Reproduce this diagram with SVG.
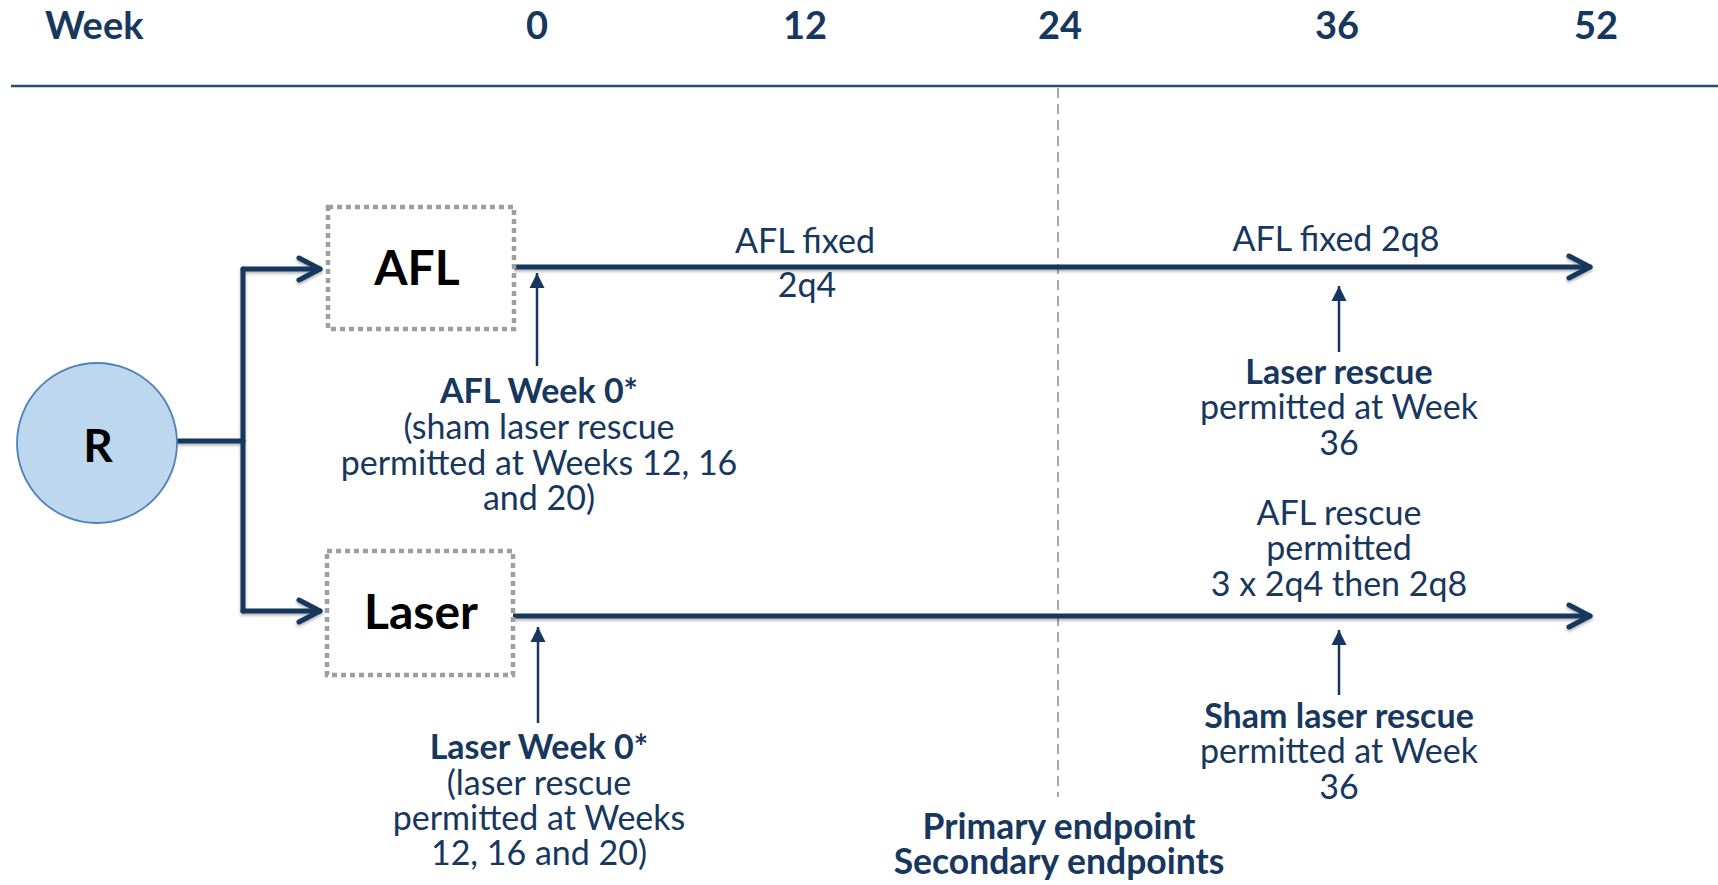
<svg xmlns="http://www.w3.org/2000/svg" width="1718" height="885" viewBox="0 0 1718 885">
<defs>
<style>
.t{font-family:Lato,"Open Sans","Liberation Sans",sans-serif;fill:#17375E;text-anchor:middle}
.r{font-size:34px;font-weight:400}
.b{font-size:34px;font-weight:700}
.e{font-size:35.5px;font-weight:700}
.h{font-size:38px;font-weight:700}
.k{font-family:Lato,"Open Sans","Liberation Sans",sans-serif;fill:#000;font-weight:700;text-anchor:middle}
.main{fill:none;stroke:#17375E;stroke-width:5;stroke-linecap:round;stroke-linejoin:round}
.thin{fill:none;stroke:#17375E;stroke-width:2.5}
.dot{fill:#fff;stroke:#9E9E9E;stroke-width:4.5;stroke-dasharray:5 4}
</style>
<filter id="sh" x="-5%" y="-50%" width="110%" height="300%">
<feDropShadow dx="0" dy="2" stdDeviation="1.5" flood-color="#000" flood-opacity="0.3"/>
</filter>
<marker id="chev" markerUnits="userSpaceOnUse" viewBox="-26 -14 30 28" refX="0" refY="0" markerWidth="30" markerHeight="28" orient="auto">
<path d="M-21,-11 L0,0 L-21,11" fill="none" stroke="#17375E" stroke-width="5" stroke-linecap="round" stroke-linejoin="round"/>
</marker>
<marker id="tri" markerUnits="userSpaceOnUse" viewBox="-16 -8 17 16" refX="0" refY="0" markerWidth="17" markerHeight="16" orient="auto">
<path d="M-15,-7.5 L0,0 L-15,7.5 Z" fill="#17375E"/>
</marker>
</defs>
<rect width="1718" height="885" fill="#fff"/>

<g id="timeline">
<text class="t h" x="45" y="39" style="text-anchor:start">Week</text>
<text class="t h" x="537" y="39">0</text>
<text class="t h" x="805" y="39">12</text>
<text class="t h" x="1060" y="39">24</text>
<text class="t h" x="1337" y="39">36</text>
<text class="t h" x="1596" y="39">52</text>
<line x1="11" y1="86" x2="1718" y2="86" stroke="#2A4C6E" stroke-width="2.5"/>
<line x1="1058" y1="88" x2="1058" y2="797" stroke="#8C8C8C" stroke-width="1.5" stroke-dasharray="10 6"/>
</g>

<g id="connectors">
<g filter="url(#sh)">
<path class="main" d="M178,441 H243"/>
<path class="main" d="M243,269 V611"/>
<path class="main" d="M243,269 H320" marker-end="url(#chev)"/>
<path class="main" d="M243,611 H320" marker-end="url(#chev)"/>
<path class="main" d="M515,267 H1590" marker-end="url(#chev)"/>
<path class="main" d="M513,616 H1590" marker-end="url(#chev)"/>
</g>
<line class="thin" x1="537" y1="366" x2="537" y2="273" marker-end="url(#tri)"/>
<line class="thin" x1="538" y1="723" x2="538" y2="627" marker-end="url(#tri)"/>
<line class="thin" x1="1339" y1="352" x2="1339" y2="286" marker-end="url(#tri)"/>
<line class="thin" x1="1339" y1="695" x2="1339" y2="630" marker-end="url(#tri)"/>
</g>

<g id="node-R">
<circle cx="97" cy="443" r="80" fill="#BDD7EE" stroke="#4F81BD" stroke-width="1.8"/>
<text class="k" x="98" y="462" font-size="46">R</text>
</g>

<g id="node-AFL">
<rect class="dot" x="328" y="207" width="186" height="122"/>
<text class="k" x="417" y="285" font-size="48">AFL</text>
</g>

<g id="node-Laser">
<rect class="dot" x="327" y="551" width="186" height="124"/>
<text class="k" x="421" y="629" font-size="48">Laser</text>
</g>

<g id="label-afl-fixed-2q4">
<text class="t r" x="805" y="253">AFL fixed</text>
<text class="t r" x="807" y="297">2q4</text>
</g>

<g id="label-afl-fixed-2q8">
<text class="t r" x="1336" y="251">AFL fixed 2q8</text>
</g>

<g id="label-afl-week0">
<text class="t b" x="539" y="403">AFL Week 0*</text>
<text class="t r" x="539" y="439">(sham laser rescue</text>
<text class="t r" x="539" y="475">permitted at Weeks 12, 16</text>
<text class="t r" x="539" y="510">and 20)</text>
</g>

<g id="label-laser-rescue">
<text class="t b" x="1339" y="384">Laser rescue</text>
<text class="t r" x="1339" y="419">permitted at Week</text>
<text class="t r" x="1339" y="455">36</text>
</g>

<g id="label-afl-rescue">
<text class="t r" x="1339" y="525">AFL rescue</text>
<text class="t r" x="1339" y="560">permitted</text>
<text class="t r" x="1339" y="596">3 x 2q4 then 2q8</text>
</g>

<g id="label-laser-week0">
<text class="t b" x="539" y="759">Laser Week 0*</text>
<text class="t r" x="539" y="795">(laser rescue</text>
<text class="t r" x="539" y="830">permitted at Weeks</text>
<text class="t r" x="539" y="865">12, 16 and 20)</text>
</g>

<g id="label-sham-laser-rescue">
<text class="t b" x="1339" y="728">Sham laser rescue</text>
<text class="t r" x="1339" y="763">permitted at Week</text>
<text class="t r" x="1339" y="799">36</text>
</g>

<g id="label-endpoints">
<text class="t e" x="1059" y="839">Primary endpoint</text>
<text class="t e" x="1059" y="874">Secondary endpoints</text>
</g>
</svg>
